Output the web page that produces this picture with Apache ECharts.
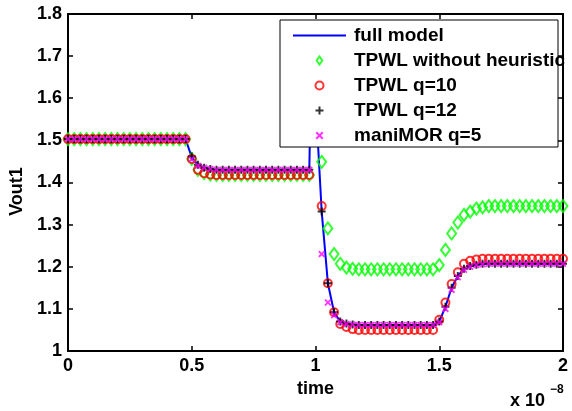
<!DOCTYPE html>
<html><head><meta charset="utf-8">
<script src="https://cdn.jsdelivr.net/npm/echarts@6/dist/echarts.min.js"></script>
<style>html,body{margin:0;padding:0;background:#fff}#c{width:572px;height:411px}</style>
</head><body><div id="c"></div>
<script>
// time in units of 1e-8 s
const time = [
  0, 0.025, 0.05, 0.075, 0.1, 0.125, 0.15, 0.175, 0.2, 0.225,
  0.25, 0.275, 0.3, 0.325, 0.35, 0.375, 0.4, 0.425, 0.45, 0.475,
  0.5, 0.525, 0.55, 0.575, 0.6, 0.625, 0.65, 0.675, 0.7, 0.725,
  0.75, 0.775, 0.8, 0.825, 0.85, 0.875, 0.9, 0.925, 0.95, 0.975,
  1, 1.025, 1.05, 1.075, 1.1, 1.125, 1.15, 1.175, 1.2, 1.225,
  1.25, 1.275, 1.3, 1.325, 1.35, 1.375, 1.4, 1.425, 1.45, 1.475,
  1.5, 1.525, 1.55, 1.575, 1.6, 1.625, 1.65, 1.675, 1.7, 1.725,
  1.75, 1.775, 1.8, 1.825, 1.85, 1.875, 1.9, 1.925, 1.95, 1.975,
  2
];
const fullTime = [
  0, 0.025, 0.05, 0.075, 0.1, 0.125, 0.15, 0.175, 0.2, 0.225,
  0.25, 0.275, 0.3, 0.325, 0.35, 0.375, 0.4, 0.425, 0.45, 0.475,
  0.5, 0.525, 0.55, 0.575, 0.6, 0.625, 0.65, 0.675, 0.7, 0.725,
  0.75, 0.775, 0.8, 0.825, 0.85, 0.875, 0.9, 0.925, 0.95, 0.975,
  0.98, 0.985,
  1, 1.025, 1.05, 1.075, 1.1, 1.125, 1.15, 1.175, 1.2, 1.225,
  1.25, 1.275, 1.3, 1.325, 1.35, 1.375, 1.4, 1.425, 1.45, 1.475,
  1.5, 1.525, 1.55, 1.575, 1.6, 1.625, 1.65, 1.675, 1.7, 1.725,
  1.75, 1.775, 1.8, 1.825, 1.85, 1.875, 1.9, 1.925, 1.95, 1.975,
  2
];
const fullModel = [
  1.503, 1.503, 1.503, 1.503, 1.503, 1.503, 1.503, 1.503, 1.503, 1.503,
  1.503, 1.503, 1.503, 1.503, 1.503, 1.503, 1.503, 1.503, 1.503, 1.503,
  1.460, 1.442, 1.435, 1.432, 1.430, 1.430, 1.430, 1.430, 1.430, 1.430,
  1.430, 1.430, 1.430, 1.430, 1.430, 1.430, 1.430, 1.430, 1.430, 1.430,
  1.432, 1.750,
  1.600, 1.331, 1.161, 1.092, 1.070, 1.065, 1.063, 1.062, 1.062, 1.062,
  1.062, 1.062, 1.062, 1.062, 1.062, 1.062, 1.062, 1.062, 1.062, 1.062,
  1.070, 1.105, 1.150, 1.178, 1.195, 1.202, 1.205, 1.207, 1.207, 1.207,
  1.207, 1.207, 1.207, 1.207, 1.207, 1.207, 1.207, 1.207, 1.207, 1.207,
  1.207
];
const tpwlNoHeuristic = [
  1.503, 1.503, 1.503, 1.503, 1.503, 1.503, 1.503, 1.503, 1.503, 1.503,
  1.503, 1.503, 1.503, 1.503, 1.503, 1.503, 1.503, 1.503, 1.503, 1.503,
  1.456, 1.430, 1.422, 1.419, 1.418, 1.418, 1.418, 1.418, 1.418, 1.418,
  1.418, 1.418, 1.418, 1.418, 1.418, 1.418, 1.418, 1.418, 1.418, 1.418,
  1.680, 1.449, 1.291, 1.230, 1.207, 1.198, 1.195, 1.194, 1.194, 1.194,
  1.194, 1.194, 1.194, 1.194, 1.194, 1.194, 1.194, 1.194, 1.194, 1.194,
  1.204, 1.240, 1.279, 1.305, 1.323, 1.331, 1.338, 1.341, 1.344, 1.344,
  1.344, 1.344, 1.344, 1.344, 1.344, 1.344, 1.344, 1.344, 1.344, 1.344,
  1.344
];
const tpwlQ10 = [
  1.503, 1.503, 1.503, 1.503, 1.503, 1.503, 1.503, 1.503, 1.503, 1.503,
  1.503, 1.503, 1.503, 1.503, 1.503, 1.503, 1.503, 1.503, 1.503, 1.503,
  1.456, 1.430, 1.422, 1.419, 1.418, 1.418, 1.418, 1.418, 1.418, 1.418,
  1.418, 1.418, 1.418, 1.418, 1.418, 1.418, 1.418, 1.418, 1.418, 1.418,
  1.660, 1.344, 1.161, 1.092, 1.064, 1.057, 1.052, 1.050, 1.050, 1.050,
  1.050, 1.050, 1.050, 1.050, 1.050, 1.050, 1.050, 1.050, 1.050, 1.050,
  1.074, 1.115, 1.159, 1.187, 1.207, 1.214, 1.217, 1.219, 1.219, 1.219,
  1.219, 1.219, 1.219, 1.219, 1.219, 1.219, 1.219, 1.219, 1.219, 1.219,
  1.219
];
const tpwlQ12 = [
  1.503, 1.503, 1.503, 1.503, 1.503, 1.503, 1.503, 1.503, 1.503, 1.503,
  1.503, 1.503, 1.503, 1.503, 1.503, 1.503, 1.503, 1.503, 1.503, 1.503,
  1.462, 1.442, 1.435, 1.432, 1.430, 1.430, 1.430, 1.430, 1.430, 1.430,
  1.430, 1.430, 1.430, 1.430, 1.430, 1.430, 1.430, 1.430, 1.430, 1.430,
  1.660, 1.331, 1.161, 1.092, 1.070, 1.065, 1.063, 1.062, 1.062, 1.062,
  1.062, 1.062, 1.062, 1.062, 1.062, 1.062, 1.062, 1.062, 1.062, 1.062,
  1.070, 1.105, 1.150, 1.178, 1.195, 1.202, 1.205, 1.207, 1.207, 1.207,
  1.207, 1.207, 1.207, 1.207, 1.207, 1.207, 1.207, 1.207, 1.207, 1.207,
  1.207
];
const maniMORq5 = [
  1.503, 1.503, 1.503, 1.503, 1.503, 1.503, 1.503, 1.503, 1.503, 1.503,
  1.503, 1.503, 1.503, 1.503, 1.503, 1.503, 1.503, 1.503, 1.503, 1.503,
  1.455, 1.440, 1.435, 1.432, 1.430, 1.430, 1.430, 1.430, 1.430, 1.430,
  1.430, 1.430, 1.430, 1.430, 1.430, 1.430, 1.430, 1.430, 1.430, 1.430,
  1.620, 1.230, 1.115, 1.085, 1.068, 1.064, 1.063, 1.062, 1.062, 1.062,
  1.062, 1.062, 1.062, 1.062, 1.062, 1.062, 1.062, 1.062, 1.062, 1.062,
  1.068, 1.100, 1.145, 1.175, 1.193, 1.200, 1.204, 1.206, 1.207, 1.207,
  1.207, 1.207, 1.207, 1.207, 1.207, 1.207, 1.207, 1.207, 1.207, 1.207,
  1.207
];
const seriesNames = ['full model', 'TPWL without heuristic', 'TPWL q=10', 'TPWL q=12', 'maniMOR q=5'];
const xRange = [0, 2], xStep = 0.5;
const yRange = [1, 1.8], yStep = 0.1;

const FONT = 'Liberation Sans, Arial, Helvetica, sans-serif';
const pair = (xs, ys) => xs.map((x, i) => [x, ys[i]]);
const PLUS = 'path://M-1,-4H1V-1H4V1H1V4H-1V1H-4V-1H-1Z';
const CROSS = 'path://M-2.5,-4L0,-1.5L2.5,-4L4,-2.5L1.5,0L4,2.5L2.5,4L0,1.5L-2.5,4L-4,2.5L-1.5,0L-4,-2.5Z';
const DIAMOND_ICON = 'path://M0,-6L4.2,0L0,6L-4.2,0Z';

const chart = echarts.init(document.getElementById('c'), null, {renderer: 'canvas'});
const axisCommon = {
  axisLine: {show: true, onZero: false, lineStyle: {color: '#000', width: 2}},
  axisTick: {show: true, inside: true, length: 5, lineStyle: {color: '#000', width: 1.5}},
  splitLine: {show: false}
};
const labelStyle = {color: '#000', fontSize: 18, fontWeight: 'bold', fontFamily: FONT};

chart.setOption({
  animation: false,
  backgroundColor: '#fff',
  grid: {left: 68, right: 9, top: 14, bottom: 60, containLabel: false},
  xAxis: [
    Object.assign({type: 'value', position: 'bottom', min: xRange[0], max: xRange[1], interval: xStep,
      name: 'time', nameLocation: 'middle', nameGap: 25,
      nameTextStyle: labelStyle,
      axisLabel: Object.assign({margin: 6}, labelStyle)}, axisCommon),
    Object.assign({type: 'value', position: 'top', min: xRange[0], max: xRange[1], interval: xStep,
      axisLabel: {show: false}}, axisCommon)
  ],
  yAxis: [
    Object.assign({type: 'value', position: 'left', min: yRange[0], max: yRange[1], interval: yStep,
      name: 'Vout1', nameLocation: 'middle', nameGap: 34, nameRotate: 90,
      nameTextStyle: Object.assign({padding: [0, 18, 0, 0]}, labelStyle),
      axisLabel: Object.assign({margin: 6}, labelStyle)}, axisCommon),
    Object.assign({type: 'value', position: 'right', min: yRange[0], max: yRange[1], interval: yStep,
      axisLabel: {show: false}}, axisCommon)
  ],
  legend: {
    show: true, orient: 'vertical', left: 292, top: 26, z: 20, padding: 0,
    itemWidth: 53, itemHeight: 8, itemGap: 6, selectedMode: false, symbolKeepAspect: true,
    data: [
      {name: seriesNames[0]},
      {name: seriesNames[1], icon: DIAMOND_ICON},
      {name: seriesNames[2]},
      {name: seriesNames[3]},
      {name: seriesNames[4]}
    ],
    textStyle: {color: '#000', fontSize: 19, fontWeight: 'bold', fontFamily: FONT, lineHeight: 18, padding: [0, 0, 0, 3]}
  },
  graphic: [
    {type: 'rect', z: 10, shape: {x: 280, y: 20, width: 278, height: 127},
      style: {fill: '#fff', stroke: '#000', lineWidth: 1}},
    {type: 'text', z: 10, left: 510, top: 392, style: {text: 'x 10', fill: '#000', font: 'bold 18px ' + FONT}},
    {type: 'text', z: 10, left: 550, top: 384, style: {text: '\u22128', fill: '#000', font: 'bold 12px ' + FONT}}
  ],
  series: [
    {name: seriesNames[0], type: 'line', data: pair(fullTime, fullModel), symbol: 'none', silent: true,
      lineStyle: {color: '#0000ff', width: 2}, itemStyle: {color: 'rgba(0,0,0,0)'}, z: 2},
    {name: seriesNames[1], type: 'scatter', data: pair(time, tpwlNoHeuristic), symbol: 'diamond', symbolSize: [9, 12], silent: true,
      itemStyle: {color: 'rgba(0,0,0,0)', borderColor: '#00ff00', borderWidth: 2}, z: 3},
    {name: seriesNames[2], type: 'scatter', data: pair(time, tpwlQ10), symbol: 'circle', symbolSize: 8, silent: true,
      itemStyle: {color: 'rgba(0,0,0,0)', borderColor: '#ff0000', borderWidth: 2}, z: 3},
    {name: seriesNames[3], type: 'scatter', data: pair(time, tpwlQ12), symbol: PLUS, symbolSize: 8, silent: true,
      itemStyle: {color: '#000'}, z: 3},
    {name: seriesNames[4], type: 'scatter', data: pair(time, maniMORq5), symbol: CROSS, symbolSize: 7, silent: true,
      itemStyle: {color: '#ff00ff'}, z: 3}
  ]
});
</script></body></html>
